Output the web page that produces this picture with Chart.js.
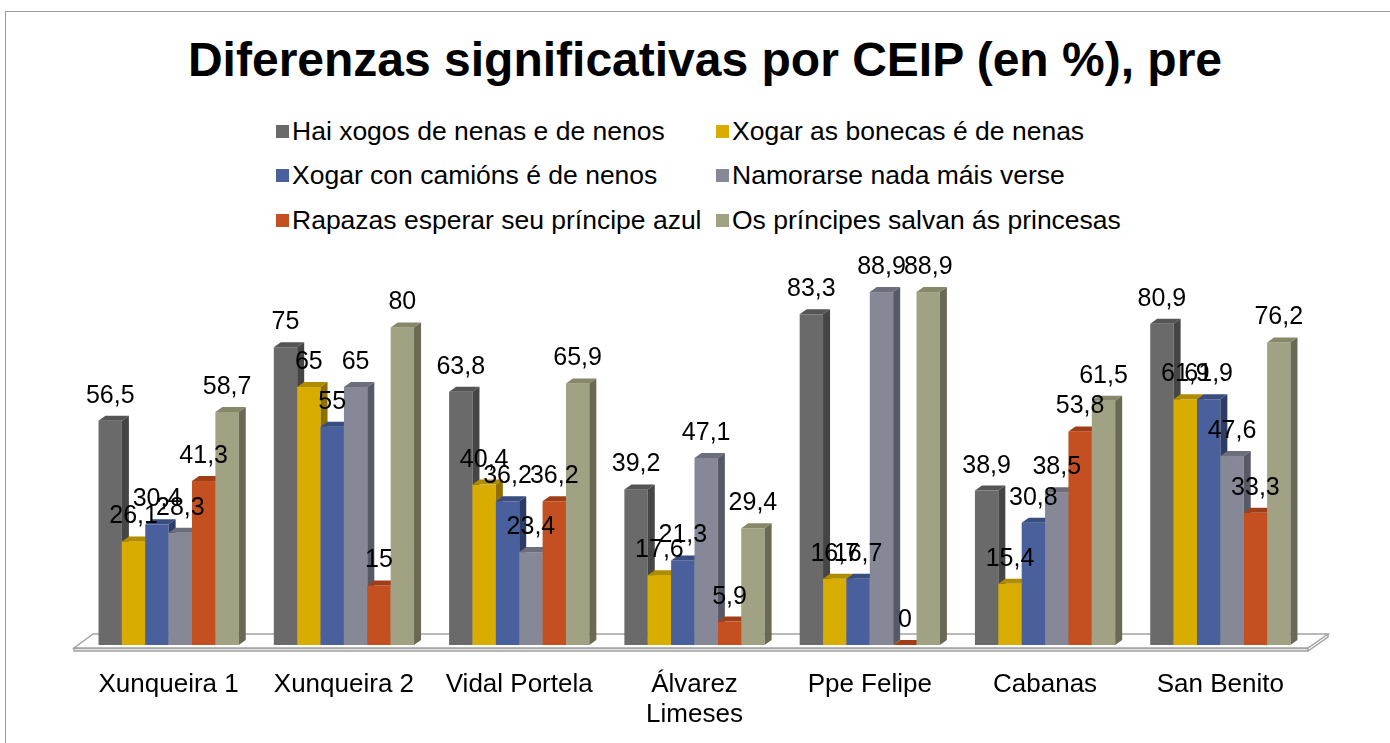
<!DOCTYPE html>
<html>
<head>
<meta charset="utf-8">
<script src="https://cdn.jsdelivr.net/npm/chart.js@4.4.1/dist/chart.umd.min.js"></script>
<style>
  html, body { margin: 0; padding: 0; background: #fff; overflow: hidden; }
  body { width: 1390px; height: 743px; position: relative; font-family: "Liberation Sans", Arial, sans-serif; }
  #frame { position: absolute; left: 5px; top: 11px; width: 1400px; height: 800px; border: 1.5px solid #9a9a9a; box-sizing: border-box; }
  #title { position: absolute; left: 0; width: 1410px; top: 30px; text-align: center; font-size: 48px; font-weight: bold; line-height: 60px; color: #000; }
  #legend { position: absolute; left: 276px; top: 116px; display: grid; grid-template-columns: 440px 440px; row-gap: 14.5px; }
  .item { display: flex; align-items: center; height: 30px; font-size: 26.5px; color: #000; white-space: nowrap; }
  .item i { display: inline-block; width: 13px; height: 13px; margin-right: 3px; }
  canvas { position: absolute; left: 0; top: 0; }
</style>
</head>
<body>
<div id="frame"></div>
<div id="title">Diferenzas significativas por CEIP (en %), pre</div>
<div id="legend"></div>
<canvas id="chart" width="1390" height="743"></canvas>
<script>
// ─── Data ────────────────────────────────────────────────
const schools = ["Xunqueira 1", "Xunqueira 2", "Vidal Portela", ["Álvarez", "Limeses"], "Ppe Felipe", "Cabanas", "San Benito"];
const seriesNames = [
  "Hai xogos de nenas e de nenos",
  "Xogar as bonecas é de nenas",
  "Xogar con camións é de nenos",
  "Namorarse nada máis verse",
  "Rapazas esperar seu príncipe azul",
  "Os príncipes salvan ás princesas"
];
const haiXogos   = [56.5, 75, 63.8, 39.2, 83.3, 38.9, 80.9];
const bonecas    = [26.1, 65, 40.4, 17.6, 16.7, 15.4, 61.9];
const camions    = [30.4, 55, 36.2, 21.3, 16.7, 30.8, 61.9];
const namorarse  = [28.3, 65, 23.4, 47.1, 88.9, 38.5, 47.6];
const principeAz = [41.3, 15, 36.2, 5.9, 0, 53.8, 33.3];
const salvan     = [58.7, 80, 65.9, 29.4, 88.9, 61.5, 76.2];
const seriesValues = [haiXogos, bonecas, camions, namorarse, principeAz, salvan];

// front / top / side shades for the fake 3D boxes
const fronts = ["#6a6a6a", "#d8ad00", "#4a609c", "#868897", "#c44f21", "#a1a184"];
const tops   = ["#555555", "#b08c00", "#3a4d80", "#6c6e7c", "#a13e18", "#878769"];
const sides  = ["#454545", "#8d7000", "#2d3c64", "#575965", "#80321a", "#6a6a54"];
const DX = 7, DY = 5;

// ─── Legend (html) ───────────────────────────────────────
document.getElementById("legend").innerHTML = seriesNames.map((n, i) =>
  `<div class="item"><i style="background:${fronts[i]}"></i>${n}</div>`).join("");

// ─── 3D bars + floor + labels ────────────────────────────
const fmt = v => String(v).replace(".", ",");

const bars3d = {
  id: "bars3d",
  beforeDatasetsDraw(chart) {
    const { ctx, chartArea: a } = chart;
    const base = chart.scales.y.getPixelForValue(0);

    // floor
    ctx.save();
    ctx.strokeStyle = "#a3a3a3";
    ctx.lineWidth = 1.5;
    ctx.fillStyle = "#e4e4e4";
    ctx.beginPath();
    ctx.moveTo(a.left - 7, base + 3);
    ctx.lineTo(a.right, base + 3);
    ctx.lineTo(a.right, base + 6);
    ctx.lineTo(a.left - 7, base + 6);
    ctx.closePath();
    ctx.fill(); ctx.stroke();
    ctx.fillStyle = "#fff";
    ctx.beginPath();
    ctx.moveTo(a.left - 7, base + 3);
    ctx.lineTo(a.left + 12, base - 11);
    ctx.lineTo(a.right + 20, base - 11);
    ctx.lineTo(a.right, base + 3);
    ctx.closePath();
    ctx.fill(); ctx.stroke();
    ctx.beginPath();
    ctx.moveTo(a.right + 20, base - 11);
    ctx.lineTo(a.right + 20, base - 8);
    ctx.lineTo(a.right, base + 6);
    ctx.stroke();

    // boxes, left to right so each front covers the previous side
    seriesValues.forEach((vals, i) => {
      chart.getDatasetMeta(i).data.forEach(el => {
        const { x, y, base: b, width } = el.getProps(["x", "y", "base", "width"], true);
        const l = x - width / 2, r = x + width / 2;
        ctx.fillStyle = fronts[i];
        ctx.fillRect(l, y, width, b - y);
        ctx.fillStyle = tops[i];
        ctx.beginPath();
        ctx.moveTo(l, y); ctx.lineTo(l + DX, y - DY); ctx.lineTo(r + DX, y - DY); ctx.lineTo(r, y);
        ctx.closePath(); ctx.fill();
        ctx.fillStyle = sides[i];
        ctx.beginPath();
        ctx.moveTo(r, y); ctx.lineTo(r + DX, y - DY); ctx.lineTo(r + DX, b - DY); ctx.lineTo(r, b);
        ctx.closePath(); ctx.fill();
      });
    });
    ctx.restore();
    return false; // skip the flat default bars
  },
  afterDraw(chart) {
    const { ctx } = chart;
    ctx.save();
    ctx.font = '25px "Liberation Sans", Arial, sans-serif';
    ctx.fillStyle = "#000";
    ctx.textAlign = "center";
    ctx.textBaseline = "alphabetic";
    seriesValues.forEach((vals, i) => {
      chart.getDatasetMeta(i).data.forEach((el, j) => {
        ctx.fillText(fmt(vals[j]), el.x, el.y - 18);
      });
    });
    ctx.restore();
  }
};

new Chart(document.getElementById("chart"), {
  type: "bar",
  data: {
    labels: schools,
    datasets: seriesValues.map((vals, i) => ({
      label: seriesNames[i],
      data: vals,
      backgroundColor: fronts[i],
      barPercentage: 1,
      categoryPercentage: 0.8
    }))
  },
  options: {
    responsive: false,
    animation: false,
    layout: { padding: { left: 81, right: 82, top: 248, bottom: 0 } },
    scales: {
      x: {
        grid: { display: false },
        border: { display: false },
        ticks: {
          color: "#000",
          padding: 17,
          font: { family: '"Liberation Sans", Arial, sans-serif', size: 26, lineHeight: 1.15 },
          maxRotation: 0
        },
        afterFit: s => { s.height = 98; }
      },
      y: { display: false, min: 0, max: 100 }
    },
    plugins: { legend: { display: false }, title: { display: false }, tooltip: { enabled: false } }
  },
  plugins: [bars3d]
});
</script>
</body>
</html>
